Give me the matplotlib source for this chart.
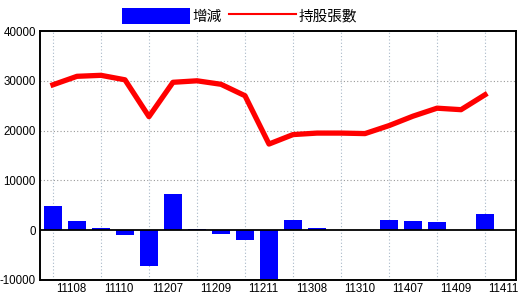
import numpy as np
import matplotlib
matplotlib.use("Agg")
import matplotlib.pyplot as plt
import matplotlib.transforms as mtransforms

plt.rcParams['font.family'] = ['Liberation Sans', 'Noto Sans CJK TC', 'DejaVu Sans']
plt.rcParams['axes.unicode_minus'] = False

# 持股張數 (line) and 增減 (bars), 19 periods
holdings = [29200, 30900, 31100, 30200, 22800, 29700, 30000, 29300, 27000, 17300,
            19200, 19500, 19500, 19400, 21000, 22900, 24500, 24200, 27200]
change = [4800, 1800, 400, -1000, -7200, 7200, 200, -700, -2000, -9700,
          2100, 400, 0, 0, 2000, 1800, 1600, 0, 3200]
tick_labels = ['11108', '11110', '11207', '11209', '11211',
               '11308', '11310', '11407', '11409', '11411']

x = np.arange(len(holdings))

fig = plt.figure(figsize=(5.2, 3.0), dpi=100)
ax = fig.add_axes([40 / 520, 20 / 300, 476 / 520, 249 / 300])

# grid
for yv in [10000, 20000, 30000]:
    ax.axhline(yv, color='#999999', lw=0.8, ls=(0, (1, 2)), zorder=0)
for xv in x[::2]:
    ax.axvline(xv, color='#a8b8c8', lw=0.8, ls=(0, (1, 2)), zorder=0)

bars = ax.bar(x, change, width=0.75, color='#0000ff', zorder=2, label='增減')
ax.axhline(0, color='black', lw=1.3, zorder=3)
line, = ax.plot(x, holdings, color='#ff0000', lw=3.8, zorder=4, label='持股張數')

ax.set_xlim(-0.54, 19.29)
ax.set_ylim(-10000, 40000)
ax.set_yticks([-10000, 0, 10000, 20000, 30000, 40000])
ax.set_xticks(x[::2])
ax.set_xticklabels(tick_labels)
ax.tick_params(axis='both', length=0, labelsize=8.3)
ax.tick_params(axis='y', pad=3)
ax.tick_params(axis='x', pad=2)
offset = mtransforms.ScaledTranslation(3 / 100, 0, fig.dpi_scale_trans)
for lbl in ax.get_xticklabels():
    lbl.set_horizontalalignment('left')
    lbl.set_transform(lbl.get_transform() + offset)

for sp in ax.spines.values():
    sp.set_linewidth(1.4)
    sp.set_color('black')

# legend (handle drawn wide like original)
fig.legend(handles=[bars, line], labels=['增減', '持股張數'], loc='center',
           bbox_to_anchor=(240 / 520, 1 - 16 / 300), ncol=2, frameon=False,
           handlelength=4.6, handleheight=1.3, handletextpad=0.2, columnspacing=0.5,
           prop={'family': ['Noto Sans CJK TC', 'DejaVu Sans'], 'size': 10.5})
leg_line = fig.legends[0].get_lines()[0]
leg_line.set_linewidth(1.5)

fig.savefig('out.png', dpi=100)
